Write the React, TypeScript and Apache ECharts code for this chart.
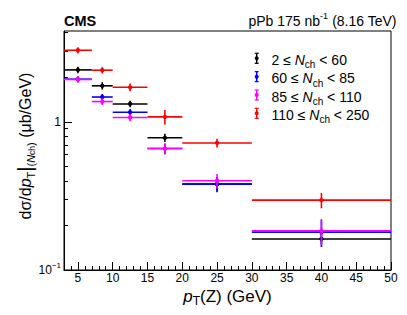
import React, { useEffect, useRef } from "react";
import * as echarts from "echarts";

const FONT = "'Liberation Sans', Arial, Helvetica, sans-serif";

// pT(Z) bins (GeV)
const binCenter = [5, 8.5, 12.5, 17.5, 25, 40];
const binLow = [3, 7, 10, 15, 20, 30];
const binHigh = [7, 10, 15, 20, 30, 50];

const seriesNames = ["2 ≤ Nch < 60", "60 ≤ Nch < 85", "85 ≤ Nch < 110", "110 ≤ Nch < 250"];
const legendLabels = [
  "2 ≤ {i|N}{s|ch} < 60",
  "60 ≤ {i|N}{s|ch} < 85",
  "85 ≤ {i|N}{s|ch} < 110",
  "110 ≤ {i|N}{s|ch} < 250",
];
const colors = ["#000000", "#0000ff", "#ff00ff", "#ff0000"];

// dsigma/dpT (ub/GeV) and stat. uncertainties
const valBlack = [2.24, 1.75, 1.32, 0.78, 0.38, 0.162];
const errBlack = [0.11, 0.1, 0.065, 0.05, 0.04, 0.013];
const valBlue = [1.94, 1.47, 1.16, 0.66, 0.38, 0.18];
const errBlue = [0.09, 0.07, 0.06, 0.055, 0.045, 0.037];
const valMagenta = [1.93, 1.37, 1.07, 0.66, 0.4, 0.184];
const errMagenta = [0.09, 0.07, 0.06, 0.055, 0.045, 0.037];
const valRed = [3.04, 2.23, 1.71, 1.08, 0.72, 0.296];
const errRed = [0.15, 0.11, 0.1, 0.12, 0.05, 0.035];

const allValues = [valBlack, valBlue, valMagenta, valRed];
const allErrors = [errBlack, errBlue, errMagenta, errRed];

// axes
const xMin = 3;
const xMax = 50;
const xMajorTicks = [5, 10, 15, 20, 25, 30, 35, 40, 45, 50];
const xMinorTicks = [
  3, 4, 5, 6, 7, 8, 9, 10, 11, 12, 13, 14, 15, 16, 17, 18, 19, 20, 21, 22, 23, 24, 25, 26,
  27, 28, 29, 30, 31, 32, 33, 34, 35, 36, 37, 38, 39, 40, 41, 42, 43, 44, 45, 46, 47, 48, 49, 50,
];
const yMin = 0.1;
const yMax = 4.1;
const yMajorTicks = [0.1, 1];
const yMinorTicks = [0.2, 0.3, 0.4, 0.5, 0.6, 0.7, 0.8, 0.9, 2, 3, 4];

const GRID = { left: 64, right: 16, top: 31, bottom: 45 };

export default function App() {
  const ref = useRef<HTMLDivElement>(null);

  useEffect(() => {
    if (!ref.current) return;
    const chart = echarts.init(ref.current, undefined, { renderer: "svg" });

    const series = allValues.map((vals, s) => ({
      type: "custom",
      name: seriesNames[s],
      xAxisIndex: 0,
      yAxisIndex: 0,
      z: 10 + s,
      clip: false,
      data: vals.map((v, i) => [binCenter[i], v, binLow[i], binHigh[i], v - allErrors[s][i], v + allErrors[s][i]]),
      encode: { x: [0, 2, 3], y: [1, 4, 5] },
      renderItem: (params: any, api: any) => {
        const xc = api.value(0);
        const y = api.value(1);
        const c = api.coord([xc, y]);
        const l = api.coord([api.value(2), y]);
        const h = api.coord([api.value(3), y]);
        const lo = api.coord([xc, api.value(4)]);
        const hi = api.coord([xc, api.value(5)]);
        const col = colors[s];
        return {
          type: "group",
          children: [
            { type: "line", shape: { x1: l[0], y1: c[1], x2: h[0], y2: c[1] }, style: { stroke: col, lineWidth: 1.6 } },
            { type: "line", shape: { x1: c[0], y1: lo[1], x2: c[0], y2: hi[1] }, style: { stroke: col, lineWidth: 1.6 } },
            { type: "circle", shape: { cx: c[0], cy: c[1], r: 2.2 }, style: { fill: col } },
          ],
        };
      },
    }));

    const legendEls: any[] = [];
    const legendX = 256.7;
    const legendTextX = 271.5;
    const legendY0 = 58.3;
    const legendDy = 18.35;
    legendLabels.forEach((lab, i) => {
      const y = legendY0 + i * legendDy;
      const col = colors[i];
      legendEls.push(
        { type: "line", shape: { x1: legendX, y1: y - 5, x2: legendX, y2: y + 5 }, style: { stroke: col, lineWidth: 1.5 } },
        { type: "line", shape: { x1: legendX - 2, y1: y - 5, x2: legendX + 2, y2: y - 5 }, style: { stroke: col, lineWidth: 1.2 } },
        { type: "line", shape: { x1: legendX - 2, y1: y + 5, x2: legendX + 2, y2: y + 5 }, style: { stroke: col, lineWidth: 1.2 } },
        { type: "circle", shape: { cx: legendX, cy: y, r: 2 }, style: { fill: col } },
        {
          type: "text",
          x: legendTextX,
          y: y + 1.5,
          style: {
            text: lab,
            fontFamily: FONT,
            fontSize: 14,
            fill: "#000",
            lineHeight: 20,
            align: "left",
            verticalAlign: "middle",
            textAlign: "left",
            textVerticalAlign: "middle",
            rich: {
              i: { fontFamily: FONT, fontSize: 14, fontStyle: "italic", lineHeight: 20, fill: "#000" },
              s: { fontFamily: FONT, fontSize: 10, lineHeight: 10, verticalAlign: "bottom", fill: "#000" },
            },
          },
        }
      );
    });

    const option: any = {
      animation: false,
      backgroundColor: "#ffffff",
      textStyle: { fontFamily: FONT },
      grid: { ...GRID, show: true, borderColor: "#000", borderWidth: 1, backgroundColor: "transparent" },
      xAxis: [
        {
          type: "value",
          min: xMin,
          max: xMax,
          position: "bottom",
          axisLine: { show: true, onZero: false, lineStyle: { color: "#000", width: 1 } },
          axisTick: { show: true, inside: true, length: 8, customValues: xMajorTicks, lineStyle: { color: "#000" } },
          axisLabel: { show: true, customValues: xMajorTicks, color: "#000", fontSize: 12, fontFamily: FONT, margin: 2 },
          splitLine: { show: false },
        },
        {
          type: "value",
          min: xMin,
          max: xMax,
          position: "bottom",
          axisLine: { show: false, onZero: false },
          axisTick: { show: true, inside: true, length: 4, customValues: xMinorTicks, lineStyle: { color: "#000" } },
          axisLabel: { show: false },
          splitLine: { show: false },
        },
      ],
      yAxis: [
        {
          type: "log",
          logBase: 10,
          min: yMin,
          max: yMax,
          axisLine: { show: false },
          axisTick: { show: false },
          axisLabel: { show: false },
          splitLine: { show: false },
        },
        {
          type: "value",
          min: Math.log10(yMin),
          max: Math.log10(yMax),
          position: "left",
          axisLine: { show: true, onZero: false, lineStyle: { color: "#000", width: 1 } },
          axisTick: { show: true, inside: true, length: 8, customValues: yMajorTicks.map(Math.log10), lineStyle: { color: "#000" } },
          axisLabel: {
            show: true,
            customValues: yMajorTicks.map(Math.log10),
            color: "#000",
            fontSize: 12,
            fontFamily: FONT,
            margin: 3,
            lineHeight: 18,
            formatter: (v: number) => (Math.abs(v) < 1e-9 ? "1" : "{b|10}{s|−1}"),
            rich: {
              b: { fontSize: 12, fontFamily: FONT, color: "#000", lineHeight: 18 },
              s: { fontSize: 8, fontFamily: FONT, color: "#000", lineHeight: 8, verticalAlign: "top" },
            },
          },
          splitLine: { show: false },
        },
        {
          type: "value",
          min: Math.log10(yMin),
          max: Math.log10(yMax),
          position: "left",
          axisLine: { show: false, onZero: false },
          axisTick: { show: true, inside: true, length: 4, customValues: yMinorTicks.map(Math.log10), lineStyle: { color: "#000" } },
          axisLabel: { show: false },
          splitLine: { show: false },
        },
      ],
      series,
      graphic: [
        {
          type: "text",
          x: 64,
          y: 20.7,
          style: {
            text: "CMS",
            fontFamily: FONT,
            fontSize: 14.5,
            fontWeight: "bold",
            fill: "#000",
            align: "left",
            verticalAlign: "middle",
            textAlign: "left",
            textVerticalAlign: "middle",
          },
        },
        {
          type: "text",
          x: 396.5,
          y: 20.7,
          style: {
            text: "pPb 175 nb{s|-1} (8.16 TeV)",
            fontFamily: FONT,
            fontSize: 14,
            fill: "#000",
            lineHeight: 18,
            align: "right",
            verticalAlign: "middle",
            textAlign: "right",
            textVerticalAlign: "middle",
            rich: {
              s: { fontFamily: FONT, fontSize: 9, lineHeight: 9, verticalAlign: "top", fill: "#000" },
            },
          },
        },
        {
          type: "text",
          x: 227.5,
          y: 296,
          style: {
            text: "{i|p}{s|T}(Z) (GeV)",
            fontFamily: FONT,
            fontSize: 17,
            fill: "#000",
            lineHeight: 22,
            align: "center",
            verticalAlign: "middle",
            textAlign: "center",
            textVerticalAlign: "middle",
            rich: {
              i: { fontFamily: FONT, fontSize: 17, fontStyle: "italic", lineHeight: 22, fill: "#000" },
              s: { fontFamily: FONT, fontSize: 12, lineHeight: 12, verticalAlign: "bottom", fill: "#000" },
            },
          },
        },
        {
          type: "text",
          x: 25,
          y: 146,
          rotation: Math.PI / 2,
          style: {
            text: "dσ/d{i|p}{s|T}{bar||}{s|(}{si|N}{ss|ch}{s|)} (μb/GeV)",
            fontFamily: FONT,
            fontSize: 16,
            fill: "#000",
            lineHeight: 23,
            align: "center",
            verticalAlign: "middle",
            textAlign: "center",
            textVerticalAlign: "middle",
            rich: {
              i: { fontFamily: FONT, fontSize: 16, fontStyle: "italic", lineHeight: 23, fill: "#000" },
              s: { fontFamily: FONT, fontSize: 11, lineHeight: 11, verticalAlign: "bottom", fill: "#000" },
              si: { fontFamily: FONT, fontSize: 11, fontStyle: "italic", lineHeight: 11, verticalAlign: "bottom", fill: "#000" },
              ss: { fontFamily: FONT, fontSize: 8.5, lineHeight: 5, verticalAlign: "bottom", fill: "#000" },
              bar: { fontFamily: FONT, fontSize: 20, lineHeight: 23, fill: "#000" },
            },
          },
        },
        ...legendEls,
      ],
    };

    chart.setOption(option);
    return () => chart.dispose();
  }, []);

  return <div ref={ref} style={{ position: "fixed", left: 0, top: 0, width: 407, height: 315, background: "#fff" }} />;
}
